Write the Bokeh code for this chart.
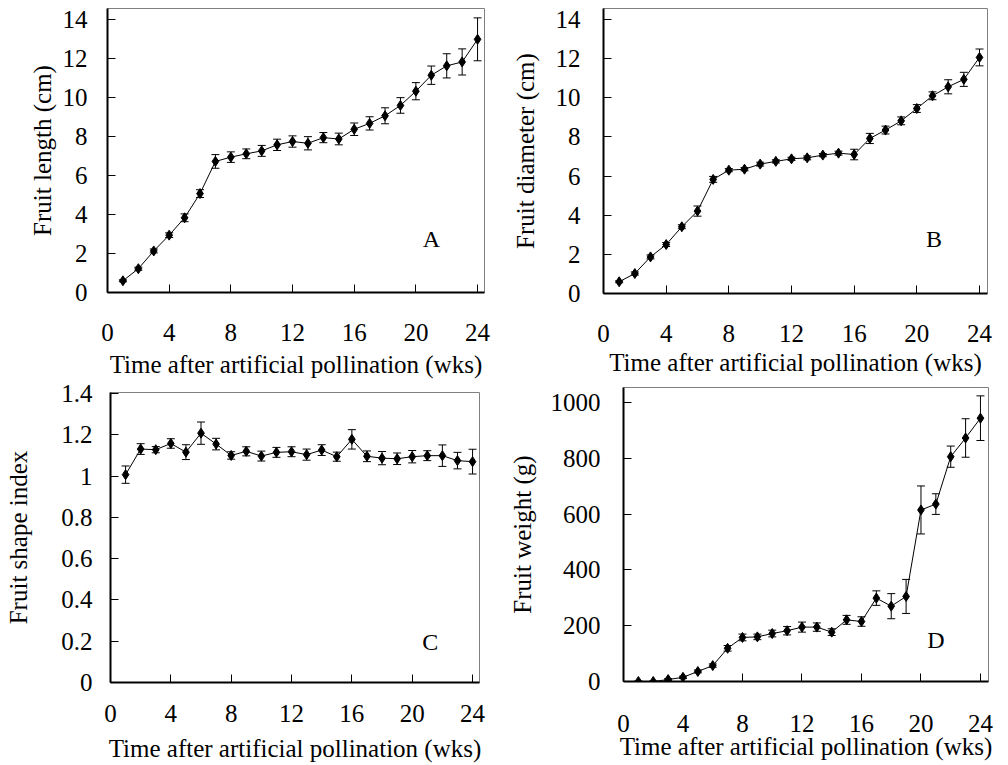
from bokeh.plotting import figure
from bokeh.models import Range1d, FixedTicker, ColumnDataSource, Whisker, TeeHead, Label
from bokeh.layouts import column, row
from bokeh.embed import file_html
from bokeh.resources import INLINE

weeks = list(range(1, 25))

length_cm = [0.60, 1.22, 2.13, 2.94, 3.83, 5.07, 6.72, 6.94, 7.11, 7.26, 7.57, 7.74,
             7.65, 7.94, 7.87, 8.37, 8.67, 9.06, 9.59, 10.32, 11.14, 11.62, 11.82, 12.98]
length_err = [0.05, 0.08, 0.10, 0.12, 0.20, 0.20, 0.35, 0.27, 0.25, 0.28, 0.29, 0.29,
              0.34, 0.26, 0.30, 0.32, 0.34, 0.41, 0.40, 0.44, 0.47, 0.62, 0.67, 1.10]

diameter_cm = [0.60, 1.02, 1.87, 2.50, 3.41, 4.21, 5.83, 6.30, 6.35, 6.61, 6.75, 6.88,
               6.93, 7.07, 7.17, 7.10, 7.92, 8.35, 8.82, 9.45, 10.10, 10.56, 10.94, 12.06]
diameter_err = [0.05, 0.08, 0.10, 0.10, 0.10, 0.26, 0.15, 0.08, 0.08, 0.10, 0.08, 0.08,
                0.10, 0.08, 0.10, 0.27, 0.26, 0.20, 0.20, 0.20, 0.20, 0.36, 0.36, 0.43]

shape_index = [1.007, 1.131, 1.128, 1.158, 1.116, 1.208, 1.155, 1.100, 1.120, 1.097, 1.115, 1.118,
               1.104, 1.126, 1.094, 1.178, 1.096, 1.087, 1.084, 1.094, 1.099, 1.099, 1.075, 1.070]
shape_err = [0.042, 0.026, 0.015, 0.023, 0.036, 0.054, 0.028, 0.018, 0.022, 0.024, 0.024, 0.024,
             0.027, 0.026, 0.022, 0.047, 0.026, 0.032, 0.028, 0.030, 0.024, 0.052, 0.040, 0.060]

weight_g = [0, 0, 7, 15, 36, 57, 119, 158, 160, 172, 182, 195,
            195, 177, 221, 215, 299, 270, 305, 615, 636, 806, 873, 944]
weight_err = [2, 2, 3, 4, 5, 6, 10, 12, 10, 12, 15, 18,
              15, 12, 16, 17, 26, 45, 61, 86, 37, 38, 69, 80]

x_ticks = [0, 4, 8, 12, 16, 20, 24]
len_ticks = [0, 2, 4, 6, 8, 10, 12, 14]
shape_ticks = [0, 0.2, 0.4, 0.6, 0.8, 1, 1.2, 1.4]
shape_tick_labels = ["0", "0.2", "0.4", "0.6", "0.8", "1", "1.2", "1.4"]
weight_ticks = [0, 200, 400, 600, 800, 1000]

x_title = "Time after artificial pollination (wks)"
FONT = "Liberation Serif"


def panel(vals, errs, ylabel, letter, letter_xy, yticks, ylabels, w, h,
          borders, xend, yend, xstand, xlabstand, ystand, ylabstand):
    p = figure(width=w, height=h, output_backend="svg", toolbar_location=None,
               x_range=Range1d(0, xend), y_range=Range1d(0, yend),
               min_border_left=borders[0], min_border_right=borders[1],
               min_border_top=borders[2], min_border_bottom=borders[3])
    p.xgrid.visible = False
    p.ygrid.visible = False
    p.outline_line_color = "#808080"
    p.outline_line_width = 1
    p.background_fill_color = "white"
    p.border_fill_color = "white"

    upper = [v + e for v, e in zip(vals, errs)]
    lower = [v - e for v, e in zip(vals, errs)]
    src = ColumnDataSource(dict(x=weeks, y=vals, upper=upper, lower=lower))
    wh = Whisker(source=src, base="x", upper="upper", lower="lower",
                 line_color="black", line_width=1,
                 upper_head=TeeHead(size=8, line_color="black", line_width=1),
                 lower_head=TeeHead(size=8, line_color="black", line_width=1))
    p.add_layout(wh)
    p.line("x", "y", source=src, line_color="black", line_width=1)
    p.scatter("x", "y", source=src, marker="diamond", size=10, color="black")

    p.add_layout(Label(x=letter_xy[0], y=letter_xy[1], text=letter, text_font=FONT,
                       text_font_size="24px", text_align="center", text_baseline="middle",
                       text_color="black"))

    p.xaxis.ticker = FixedTicker(ticks=x_ticks)
    p.yaxis.ticker = FixedTicker(ticks=yticks)
    if ylabels is not None:
        p.yaxis.major_label_overrides = dict(zip(yticks, ylabels))
    p.xaxis.axis_label = x_title
    p.yaxis.axis_label = ylabel
    for ax in (p.xaxis, p.yaxis):
        ax.axis_line_width = 2
        ax.axis_line_color = "black"
        ax.major_tick_in = 8
        ax.major_tick_out = 0
        ax.major_tick_line_color = "black"
        ax.minor_tick_line_color = None
        ax.major_label_text_font = FONT
        ax.major_label_text_font_size = "25px"
        ax.major_label_text_color = "black"
        ax.axis_label_text_font = FONT
        ax.axis_label_text_font_size = "25px"
        ax.axis_label_text_font_style = "normal"
        ax.axis_label_text_color = "black"
    p.xaxis.major_label_standoff = xstand
    p.xaxis.axis_label_standoff = xlabstand
    p.yaxis.major_label_standoff = ystand
    p.yaxis.axis_label_standoff = ylabstand
    return p


pa = panel(length_cm, length_err, "Fruit length (cm)", "A", (21.0, 2.76), len_ticks, None,
           504, 380, (107, 20, 8, 87), 24.45, 14.56, 31, 7, 20, 4)
pb = panel(diameter_cm, diameter_err, "Fruit diameter (cm)", "B", (21.1, 2.76), len_ticks, None,
           504, 380, (99, 21, 8, 87), 24.51, 14.56, 31, 4, 23, 14)
pc = panel(shape_index, shape_err, "Fruit shape index", "C", (21.2, 0.198), shape_ticks, shape_tick_labels,
           504, 385, (110, 25, 12, 83), 24.46, 1.405, 22, 10, 18, 26)
pd_ = panel(weight_g, weight_err, "Fruit weight (g)", "D", (21.0, 147), weight_ticks, None,
            504, 385, (119, 20, 7, 84), 24.54, 1054, 33, -2, 23, 12)

layout = column(row(column(pa), column(pb)), row(column(pc), column(pd_)))
open("out.html", "w").write(file_html(layout, INLINE))
